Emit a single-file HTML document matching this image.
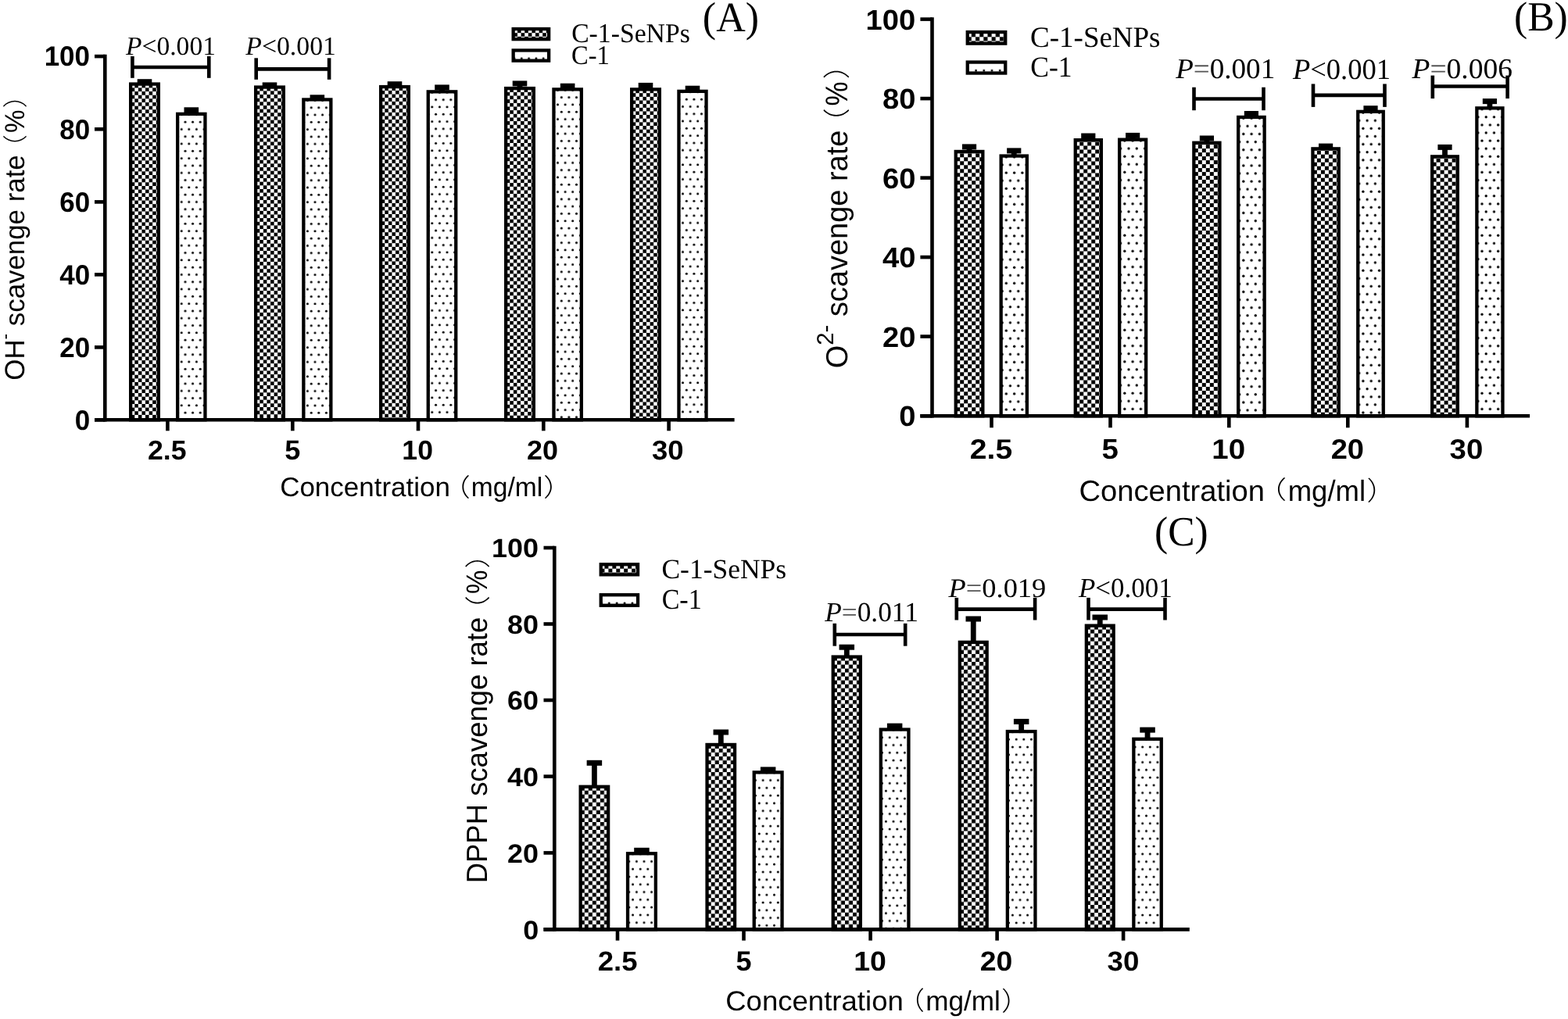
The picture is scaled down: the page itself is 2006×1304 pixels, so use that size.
<!DOCTYPE html>
<html><head><meta charset="utf-8"><title>Scavenging rate figure</title>
<style>
html,body{margin:0;padding:0;background:#fff;}
svg{display:block;}
text{text-rendering:geometricPrecision;}
.tk{font-family:"Liberation Sans", "Noto Sans CJK SC", sans-serif;font-weight:bold;fill:#000;}
.tt{font-family:"Liberation Sans", "Noto Sans CJK SC", sans-serif;fill:#000;}
.cj{font-family:"Noto Sans CJK SC", "Liberation Sans", sans-serif;fill:#000;}
.cjl{font-family:"Noto Sans CJK SC", "Liberation Sans", sans-serif;font-weight:300;fill:#000;}
.pv{font-family:"Liberation Serif", "Noto Serif CJK SC", serif;fill:#000;}
.lg{font-family:"Liberation Serif", "Noto Serif CJK SC", serif;fill:#000;}
</style></head>
<body>
<svg width="2006" height="1304" viewBox="0 0 2006 1304">
<defs>
<pattern id="chkA" patternUnits="userSpaceOnUse" x="7.3" y="2.35" width="9.14" height="9.3">
 <rect width="9.14" height="9.3" fill="#fff"/>
 <rect width="4.57" height="4.65" fill="#000"/>
 <rect x="4.57" y="4.65" width="4.57" height="4.65" fill="#000"/>
</pattern>
<pattern id="dotA" patternUnits="userSpaceOnUse" x="4.8" y="-1.55" width="9.6" height="18.6">
 <rect width="9.6" height="18.6" fill="#fff"/>
 <circle cx="2.4" cy="4.65" r="1.5" fill="#000"/>
 <circle cx="7.2" cy="13.95" r="1.5" fill="#000"/>
</pattern>
<pattern id="lchkA" patternUnits="userSpaceOnUse" x="666.6" y="42.2" width="9.2" height="9.2">
 <rect width="9.2" height="9.2" fill="#fff"/>
 <rect width="4.6" height="4.6" fill="#000"/>
 <rect x="4.6" y="4.6" width="4.6" height="4.6" fill="#000"/>
</pattern>
<pattern id="ldotA" patternUnits="userSpaceOnUse" x="662.65" y="24.9" width="9.3" height="100">
 <rect width="9.3" height="100" fill="#fff"/>
 <circle cx="4.65" cy="50" r="1.45" fill="#000"/>
</pattern>
<pattern id="chkB" patternUnits="userSpaceOnUse" x="7.6" y="4.5" width="10" height="10">
 <rect width="10" height="10" fill="#fff"/>
 <rect width="5" height="5" fill="#000"/>
 <rect x="5" y="5" width="5" height="5" fill="#000"/>
</pattern>
<pattern id="dotB" patternUnits="userSpaceOnUse" x="6.23" y="-1.55" width="10.3" height="20.2">
 <rect width="10.3" height="20.2" fill="#fff"/>
 <circle cx="2.58" cy="5.05" r="1.65" fill="#000"/>
 <circle cx="7.73" cy="15.15" r="1.65" fill="#000"/>
</pattern>
<pattern id="lchkB" patternUnits="userSpaceOnUse" x="1248" y="47.3" width="10.3" height="10.3">
 <rect width="10.3" height="10.3" fill="#fff"/>
 <rect width="5.15" height="5.15" fill="#000"/>
 <rect x="5.15" y="5.15" width="5.15" height="5.15" fill="#000"/>
</pattern>
<pattern id="ldotB" patternUnits="userSpaceOnUse" x="1243.5" y="40.4" width="10.2" height="100">
 <rect width="10.2" height="100" fill="#fff"/>
 <circle cx="5.1" cy="50" r="1.45" fill="#000"/>
</pattern>
<pattern id="chkC" patternUnits="userSpaceOnUse" x="7.3" y="7.1" width="10.04" height="10.07">
 <rect width="10.04" height="10.07" fill="#fff"/>
 <rect width="5.02" height="5.04" fill="#000"/>
 <rect x="5.02" y="5.04" width="5.02" height="5.04" fill="#000"/>
</pattern>
<pattern id="dotC" patternUnits="userSpaceOnUse" x="6.3" y="-2.39" width="9.6" height="19.56">
 <rect width="9.6" height="19.56" fill="#fff"/>
 <circle cx="2.4" cy="4.89" r="1.5" fill="#000"/>
 <circle cx="7.2" cy="14.67" r="1.5" fill="#000"/>
</pattern>
<pattern id="lchkC" patternUnits="userSpaceOnUse" x="778.4" y="727.7" width="9.9" height="9.9">
 <rect width="9.9" height="9.9" fill="#fff"/>
 <rect width="4.95" height="4.95" fill="#000"/>
 <rect x="4.95" y="4.95" width="4.95" height="4.95" fill="#000"/>
</pattern>
<pattern id="ldotC" patternUnits="userSpaceOnUse" x="774.35" y="722" width="9.9" height="100">
 <rect width="9.9" height="100" fill="#fff"/>
 <circle cx="4.95" cy="50" r="1.45" fill="#000"/>
</pattern>
</defs>
<rect width="2006" height="1304" fill="#fff"/>
<rect x="175.7" y="101.2" width="18.6" height="7" fill="#000"/>
<g transform="translate(165 105.4)"><rect x="2.15" y="2.15" width="35.7" height="429.75" fill="url(#chkA)" stroke="#000" stroke-width="4.3"/></g>
<rect x="241.4" y="140.3" width="6.8" height="6.4" fill="#000"/>
<rect x="235.5" y="137.3" width="18.6" height="7" fill="#000"/>
<g transform="translate(225 143.7)"><rect x="2.15" y="2.15" width="35.3" height="391.45" fill="url(#dotA)" stroke="#000" stroke-width="4.3"/></g>
<rect x="335.7" y="105.4" width="18.6" height="7" fill="#000"/>
<g transform="translate(325 109.4)"><rect x="2.15" y="2.15" width="35.7" height="425.75" fill="url(#chkA)" stroke="#000" stroke-width="4.3"/></g>
<rect x="396.55" y="121.3" width="18.6" height="7" fill="#000"/>
<g transform="translate(386.2 125.3)"><rect x="2.15" y="2.15" width="35" height="409.85" fill="url(#dotA)" stroke="#000" stroke-width="4.3"/></g>
<rect x="495.7" y="104.2" width="18.6" height="7" fill="#000"/>
<g transform="translate(485 108.9)"><rect x="2.15" y="2.15" width="35.7" height="426.25" fill="url(#chkA)" stroke="#000" stroke-width="4.3"/></g>
<rect x="562.1" y="111.4" width="6.8" height="6.8" fill="#000"/>
<rect x="556.2" y="108.4" width="18.6" height="7" fill="#000"/>
<g transform="translate(545.6 115.2)"><rect x="2.15" y="2.15" width="35.5" height="419.95" fill="url(#dotA)" stroke="#000" stroke-width="4.3"/></g>
<rect x="661.6" y="106.4" width="6.8" height="7.5" fill="#000"/>
<rect x="655.7" y="103.4" width="18.6" height="7" fill="#000"/>
<g transform="translate(645 110.9)"><rect x="2.15" y="2.15" width="35.7" height="424.25" fill="url(#chkA)" stroke="#000" stroke-width="4.3"/></g>
<rect x="716.85" y="106.7" width="18.6" height="7" fill="#000"/>
<g transform="translate(706.3 112.2)"><rect x="2.15" y="2.15" width="35.4" height="422.95" fill="url(#dotA)" stroke="#000" stroke-width="4.3"/></g>
<rect x="822.6" y="108.9" width="6.8" height="6.3" fill="#000"/>
<rect x="816.7" y="105.9" width="18.6" height="7" fill="#000"/>
<g transform="translate(806 112.2)"><rect x="2.15" y="2.15" width="35.7" height="422.95" fill="url(#chkA)" stroke="#000" stroke-width="4.3"/></g>
<rect x="876.7" y="109.7" width="18.6" height="7" fill="#000"/>
<g transform="translate(866.3 114.7)"><rect x="2.15" y="2.15" width="35.1" height="420.45" fill="url(#dotA)" stroke="#000" stroke-width="4.3"/></g>
<line x1="134.3" y1="69.8" x2="134.3" y2="539.6" stroke="#000" stroke-width="4.6"/>
<line x1="121" y1="537.3" x2="939.6" y2="537.3" stroke="#000" stroke-width="4.6"/>
<line x1="121" y1="537.3" x2="134.3" y2="537.3" stroke="#000" stroke-width="4.6"/>
<line x1="121" y1="444.4" x2="134.3" y2="444.4" stroke="#000" stroke-width="4.6"/>
<line x1="121" y1="351.4" x2="134.3" y2="351.4" stroke="#000" stroke-width="4.6"/>
<line x1="121" y1="258.4" x2="134.3" y2="258.4" stroke="#000" stroke-width="4.6"/>
<line x1="121" y1="165.3" x2="134.3" y2="165.3" stroke="#000" stroke-width="4.6"/>
<line x1="121" y1="72.1" x2="134.3" y2="72.1" stroke="#000" stroke-width="4.6"/>
<line x1="214.4" y1="537.3" x2="214.4" y2="551.3" stroke="#000" stroke-width="4.6"/>
<line x1="374.3" y1="537.3" x2="374.3" y2="551.3" stroke="#000" stroke-width="4.6"/>
<line x1="535" y1="537.3" x2="535" y2="551.3" stroke="#000" stroke-width="4.6"/>
<line x1="695.3" y1="537.3" x2="695.3" y2="551.3" stroke="#000" stroke-width="4.6"/>
<line x1="855.6" y1="537.3" x2="855.6" y2="551.3" stroke="#000" stroke-width="4.6"/>
<text class="tk" font-size="100" transform="matrix(0.3494 0 0 0.3563 95.78 549.69)">0</text>
<text class="tk" font-size="100" transform="matrix(0.3494 0 0 0.3563 76.22 456.79)">20</text>
<text class="tk" font-size="100" transform="matrix(0.3494 0 0 0.3563 76.22 363.79)">40</text>
<text class="tk" font-size="100" transform="matrix(0.3494 0 0 0.3563 76.22 270.79)">60</text>
<text class="tk" font-size="100" transform="matrix(0.3494 0 0 0.3563 76.22 177.69)">80</text>
<text class="tk" font-size="100" transform="matrix(0.3494 0 0 0.3563 56.65 84.49)">100</text>
<text class="tk" font-size="100" transform="matrix(0.3564 0 0 0.3479 188.93 587.75)">2.5</text>
<text class="tk" font-size="100" transform="matrix(0.36 0 0 0.3529 364.22 587.75)">5</text>
<text class="tk" font-size="100" transform="matrix(0.3554 0 0 0.3479 514.37 587.75)">10</text>
<text class="tk" font-size="100" transform="matrix(0.3596 0 0 0.3479 673.92 587.75)">20</text>
<text class="tk" font-size="100" transform="matrix(0.3654 0 0 0.3479 833.9 587.75)">30</text>
<line x1="169.4" y1="72" x2="169.4" y2="99.8" stroke="#000" stroke-width="4.6"/>
<line x1="169.4" y1="86" x2="267.3" y2="86" stroke="#000" stroke-width="4.7"/>
<line x1="267.3" y1="72" x2="267.3" y2="99.8" stroke="#000" stroke-width="4.6"/>
<text class="pv" font-size="100" transform="matrix(0.3357 0 0 0.3343 161 69.57)"><tspan font-style="italic">P</tspan><tspan fill="#000">&lt;</tspan>0.001</text>
<line x1="327.7" y1="74.3" x2="327.7" y2="101.8" stroke="#000" stroke-width="4.6"/>
<line x1="327.7" y1="88.3" x2="421.1" y2="88.3" stroke="#000" stroke-width="4.7"/>
<line x1="421.1" y1="74.3" x2="421.1" y2="101.8" stroke="#000" stroke-width="4.6"/>
<text class="pv" font-size="100" transform="matrix(0.3375 0 0 0.3343 314.3 69.57)"><tspan font-style="italic">P</tspan><tspan fill="#000">&lt;</tspan>0.001</text>
<rect x="656.65" y="37.05" width="45.5" height="13.1" fill="url(#lchkA)" stroke="#000" stroke-width="4.3"/>
<rect x="656.65" y="64.45" width="45.5" height="13.2" fill="url(#ldotA)" stroke="#000" stroke-width="4.3"/>
<text class="lg" font-size="100" transform="matrix(0.3369 0 0 0.3478 731.15 54.15)">C-1-SeNPs</text>
<text class="lg" font-size="100" transform="matrix(0.325 0 0 0.3433 731.1 81.66)">C-1</text>
<text class="lg" font-size="100" transform="matrix(0.52 0 0 0.5378 898.82 39.51)">(A)</text>
<text class="tt" font-size="100" transform="translate(31.3 486.64) rotate(-90) scale(0.3484 0.3536)">OH<tspan font-size="65" dy="-49">-</tspan><tspan dy="49"> scavenge rate</tspan></text>
<text class="cjl" font-size="100" transform="translate(31.36 204.77) rotate(-90) scale(0.325 0.316)">（</text>
<text class="tt" font-size="100" transform="translate(31.4 170.03) rotate(-90) scale(0.3321 0.3551)">%</text>
<text class="cjl" font-size="100" transform="translate(31.36 138.27) rotate(-90) scale(0.3333 0.316)">）</text>
<text class="tt" font-size="100" transform="matrix(0.3498 0 0 0.3452 358.15 635.15)">Concentration</text>
<text class="cjl" font-size="100" transform="matrix(0.3625 0 0 0.316 565.56 635.06)">（</text>
<text class="tt" font-size="100" transform="matrix(0.3355 0 0 0.3452 602.85 635.15)">mg/ml</text>
<text class="cjl" font-size="100" transform="matrix(0.3792 0 0 0.316 695.1 635.06)">）</text>
<rect x="1236.65" y="187.4" width="6.8" height="7.4" fill="#000"/>
<rect x="1230.95" y="184.4" width="18.2" height="7" fill="#000"/>
<g transform="translate(1220.6 191.8)"><rect x="2.15" y="2.15" width="34.6" height="338.35" fill="url(#chkB)" stroke="#000" stroke-width="4.3"/></g>
<rect x="1293.85" y="192.4" width="6.8" height="8" fill="#000"/>
<rect x="1288.15" y="189.4" width="18.2" height="7" fill="#000"/>
<g transform="translate(1278.5 197.4)"><rect x="2.15" y="2.15" width="33.2" height="332.75" fill="url(#dotB)" stroke="#000" stroke-width="4.3"/></g>
<rect x="1388.9" y="173.5" width="6.8" height="6.5" fill="#000"/>
<rect x="1383.2" y="170.5" width="18.2" height="7" fill="#000"/>
<g transform="translate(1373.6 177)"><rect x="2.15" y="2.15" width="33.1" height="353.15" fill="url(#chkB)" stroke="#000" stroke-width="4.3"/></g>
<rect x="1445.75" y="172.9" width="6.8" height="6.6" fill="#000"/>
<rect x="1440.05" y="169.9" width="18.2" height="7" fill="#000"/>
<g transform="translate(1430 176.5)"><rect x="2.15" y="2.15" width="34" height="353.65" fill="url(#dotB)" stroke="#000" stroke-width="4.3"/></g>
<rect x="1540.5" y="176.5" width="6.8" height="7.1" fill="#000"/>
<rect x="1534.8" y="173.5" width="18.2" height="7" fill="#000"/>
<g transform="translate(1525.2 180.6)"><rect x="2.15" y="2.15" width="33.1" height="349.55" fill="url(#chkB)" stroke="#000" stroke-width="4.3"/></g>
<rect x="1591.8" y="142" width="18.2" height="7" fill="#000"/>
<g transform="translate(1582 147.8)"><rect x="2.15" y="2.15" width="33.5" height="382.35" fill="url(#dotB)" stroke="#000" stroke-width="4.3"/></g>
<rect x="1687" y="183.6" width="18.2" height="7" fill="#000"/>
<g transform="translate(1677.3 188.2)"><rect x="2.15" y="2.15" width="33.3" height="341.95" fill="url(#chkB)" stroke="#000" stroke-width="4.3"/></g>
<rect x="1744.4" y="135.2" width="18.2" height="7" fill="#000"/>
<g transform="translate(1735.1 140.7)"><rect x="2.15" y="2.15" width="32.5" height="389.45" fill="url(#dotB)" stroke="#000" stroke-width="4.3"/></g>
<rect x="1845.1" y="187.9" width="6.8" height="13.3" fill="#000"/>
<rect x="1839.4" y="184.9" width="18.2" height="7" fill="#000"/>
<g transform="translate(1830 198.2)"><rect x="2.15" y="2.15" width="32.7" height="331.95" fill="url(#chkB)" stroke="#000" stroke-width="4.3"/></g>
<rect x="1902.5" y="129.1" width="6.8" height="10.1" fill="#000"/>
<rect x="1896.8" y="126.1" width="18.2" height="7" fill="#000"/>
<g transform="translate(1887.2 136.2)"><rect x="2.15" y="2.15" width="33.1" height="393.95" fill="url(#dotB)" stroke="#000" stroke-width="4.3"/></g>
<line x1="1192.5" y1="22.3" x2="1192.5" y2="534.6" stroke="#000" stroke-width="4.6"/>
<line x1="1177.3" y1="532.3" x2="1957.1" y2="532.3" stroke="#000" stroke-width="4.6"/>
<line x1="1177.4" y1="532.3" x2="1192.5" y2="532.3" stroke="#000" stroke-width="4.6"/>
<line x1="1177.4" y1="430.6" x2="1192.5" y2="430.6" stroke="#000" stroke-width="4.6"/>
<line x1="1177.4" y1="329.1" x2="1192.5" y2="329.1" stroke="#000" stroke-width="4.6"/>
<line x1="1177.4" y1="227.6" x2="1192.5" y2="227.6" stroke="#000" stroke-width="4.6"/>
<line x1="1177.4" y1="126.1" x2="1192.5" y2="126.1" stroke="#000" stroke-width="4.6"/>
<line x1="1177.4" y1="24.6" x2="1192.5" y2="24.6" stroke="#000" stroke-width="4.6"/>
<line x1="1268.5" y1="532.3" x2="1268.5" y2="547.3" stroke="#000" stroke-width="4.6"/>
<line x1="1420.5" y1="532.3" x2="1420.5" y2="547.3" stroke="#000" stroke-width="4.6"/>
<line x1="1572.3" y1="532.3" x2="1572.3" y2="547.3" stroke="#000" stroke-width="4.6"/>
<line x1="1724.3" y1="532.3" x2="1724.3" y2="547.3" stroke="#000" stroke-width="4.6"/>
<line x1="1876.9" y1="532.3" x2="1876.9" y2="547.3" stroke="#000" stroke-width="4.6"/>
<text class="tk" font-size="100" transform="matrix(0.3823 0 0 0.3648 1150.3 545.34)">0</text>
<text class="tk" font-size="100" transform="matrix(0.3823 0 0 0.3648 1128.9 443.64)">20</text>
<text class="tk" font-size="100" transform="matrix(0.3823 0 0 0.3648 1128.9 342.14)">40</text>
<text class="tk" font-size="100" transform="matrix(0.3823 0 0 0.3648 1128.9 240.64)">60</text>
<text class="tk" font-size="100" transform="matrix(0.3823 0 0 0.3648 1128.9 139.14)">80</text>
<text class="tk" font-size="100" transform="matrix(0.3823 0 0 0.3648 1107.49 37.64)">100</text>
<text class="tk" font-size="100" transform="matrix(0.391 0 0 0.3577 1240.83 587.34)">2.5</text>
<text class="tk" font-size="100" transform="matrix(0.3851 0 0 0.3629 1409.42 587.34)">5</text>
<text class="tk" font-size="100" transform="matrix(0.3851 0 0 0.3577 1550.24 587.34)">10</text>
<text class="tk" font-size="100" transform="matrix(0.3808 0 0 0.3577 1702.66 587.34)">20</text>
<text class="tk" font-size="100" transform="matrix(0.3837 0 0 0.3577 1854.55 587.34)">30</text>
<line x1="1527.5" y1="111.7" x2="1527.5" y2="141.2" stroke="#000" stroke-width="4.6"/>
<line x1="1527.5" y1="126.5" x2="1616.5" y2="126.5" stroke="#000" stroke-width="4.7"/>
<line x1="1616.5" y1="111.7" x2="1616.5" y2="141.2" stroke="#000" stroke-width="4.6"/>
<text class="pv" font-size="100" transform="matrix(0.3708 0 0 0.3642 1504.2 100.34)"><tspan font-style="italic">P</tspan><tspan fill="#555">=</tspan>0.001</text>
<line x1="1680" y1="107.4" x2="1680" y2="136.9" stroke="#000" stroke-width="4.6"/>
<line x1="1680" y1="121.8" x2="1771.5" y2="121.8" stroke="#000" stroke-width="4.7"/>
<line x1="1771.5" y1="107.4" x2="1771.5" y2="136.9" stroke="#000" stroke-width="4.6"/>
<text class="pv" font-size="100" transform="matrix(0.3652 0 0 0.3731 1653.9 100.53)"><tspan font-style="italic">P</tspan><tspan fill="#000">&lt;</tspan>0.001</text>
<line x1="1832.8" y1="96.6" x2="1832.8" y2="126.1" stroke="#000" stroke-width="4.6"/>
<line x1="1832.8" y1="110.5" x2="1928.6" y2="110.5" stroke="#000" stroke-width="4.7"/>
<line x1="1928.6" y1="96.6" x2="1928.6" y2="126.1" stroke="#000" stroke-width="4.6"/>
<text class="pv" font-size="100" transform="matrix(0.3752 0 0 0.3657 1806.5 100.23)"><tspan font-style="italic">P</tspan><tspan fill="#555">=</tspan>0.006</text>
<rect x="1237.75" y="41.05" width="48.5" height="14.6" fill="url(#lchkB)" stroke="#000" stroke-width="4.3"/>
<rect x="1237.75" y="79.55" width="48.5" height="14" fill="url(#ldotB)" stroke="#000" stroke-width="4.3"/>
<text class="lg" font-size="100" transform="matrix(0.3697 0 0 0.3746 1318.12 60.33)">C-1-SeNPs</text>
<text class="lg" font-size="100" transform="matrix(0.355 0 0 0.3716 1318.28 97.83)">C-1</text>
<text class="lg" font-size="100" transform="matrix(0.5168 0 0 0.5311 1936.93 39.35)">(B)</text>
<text class="tt" font-size="100" transform="translate(1083.71 471.2) rotate(-90) scale(0.3797 0.3887)">O<tspan font-size="77" dy="-46">2-</tspan><tspan dy="46"> scavenge rate</tspan></text>
<text class="cjl" font-size="100" transform="translate(1083.28 175.03) rotate(-90) scale(0.3667 0.3468)">（</text>
<text class="tt" font-size="100" transform="translate(1083.7 135.4) rotate(-90) scale(0.3494 0.4)">%</text>
<text class="cjl" font-size="100" transform="translate(1083.28 101.33) rotate(-90) scale(0.3667 0.3468)">）</text>
<text class="tt" font-size="100" transform="matrix(0.3812 0 0 0.3753 1380.59 640.52)">Concentration</text>
<text class="cjl" font-size="100" transform="matrix(0.3917 0 0 0.316 1607.09 638.46)">（</text>
<text class="tt" font-size="100" transform="matrix(0.3653 0 0 0.3753 1647.64 640.52)">mg/ml</text>
<text class="cjl" font-size="100" transform="matrix(0.375 0 0 0.334 1748.53 639.99)">）</text>
<rect x="757" y="975.8" width="6.8" height="31.8" fill="#000"/>
<rect x="750.65" y="972.8" width="19.5" height="7" fill="#000"/>
<g transform="translate(740.5 1004.6)"><rect x="2.15" y="2.15" width="35.5" height="182.65" fill="url(#chkC)" stroke="#000" stroke-width="4.3"/></g>
<rect x="811.2" y="1084.8" width="19.5" height="7" fill="#000"/>
<g transform="translate(800.9 1090.1)"><rect x="2.15" y="2.15" width="35.8" height="97.15" fill="url(#dotC)" stroke="#000" stroke-width="4.3"/></g>
<rect x="918.9" y="936.5" width="6.8" height="17.3" fill="#000"/>
<rect x="912.55" y="933.5" width="19.5" height="7" fill="#000"/>
<g transform="translate(902.4 950.8)"><rect x="2.15" y="2.15" width="35.5" height="236.45" fill="url(#chkC)" stroke="#000" stroke-width="4.3"/></g>
<rect x="972.9" y="981.4" width="19.5" height="7" fill="#000"/>
<g transform="translate(962.6 986.2)"><rect x="2.15" y="2.15" width="35.8" height="201.05" fill="url(#dotC)" stroke="#000" stroke-width="4.3"/></g>
<rect x="1079.9" y="827.7" width="6.8" height="13.7" fill="#000"/>
<rect x="1073.55" y="824.7" width="19.5" height="7" fill="#000"/>
<g transform="translate(1063.6 838.4)"><rect x="2.15" y="2.15" width="35.1" height="348.85" fill="url(#chkC)" stroke="#000" stroke-width="4.3"/></g>
<rect x="1134.9" y="925.6" width="19.5" height="7" fill="#000"/>
<g transform="translate(1124.7 931.4)"><rect x="2.15" y="2.15" width="35.6" height="255.85" fill="url(#dotC)" stroke="#000" stroke-width="4.3"/></g>
<rect x="1241.85" y="791.5" width="6.8" height="31.2" fill="#000"/>
<rect x="1235.5" y="788.5" width="19.5" height="7" fill="#000"/>
<g transform="translate(1225.7 819.7)"><rect x="2.15" y="2.15" width="34.8" height="367.55" fill="url(#chkC)" stroke="#000" stroke-width="4.3"/></g>
<rect x="1303.25" y="922.9" width="6.8" height="14" fill="#000"/>
<rect x="1296.9" y="919.9" width="19.5" height="7" fill="#000"/>
<g transform="translate(1286.7 933.9)"><rect x="2.15" y="2.15" width="35.6" height="253.35" fill="url(#dotC)" stroke="#000" stroke-width="4.3"/></g>
<rect x="1403.85" y="789.5" width="6.8" height="12" fill="#000"/>
<rect x="1397.5" y="786.5" width="19.5" height="7" fill="#000"/>
<g transform="translate(1387.7 798.5)"><rect x="2.15" y="2.15" width="34.8" height="388.75" fill="url(#chkC)" stroke="#000" stroke-width="4.3"/></g>
<rect x="1464.65" y="933.6" width="6.8" height="13" fill="#000"/>
<rect x="1458.3" y="930.6" width="19.5" height="7" fill="#000"/>
<g transform="translate(1448.2 943.6)"><rect x="2.15" y="2.15" width="35.4" height="243.65" fill="url(#dotC)" stroke="#000" stroke-width="4.3"/></g>
<line x1="709.3" y1="698.7" x2="709.3" y2="1191.7" stroke="#000" stroke-width="4.6"/>
<line x1="695.5" y1="1189.4" x2="1521.8" y2="1189.4" stroke="#000" stroke-width="4.6"/>
<line x1="695.5" y1="1189.4" x2="709.3" y2="1189.4" stroke="#000" stroke-width="4.6"/>
<line x1="695.5" y1="1091.4" x2="709.3" y2="1091.4" stroke="#000" stroke-width="4.6"/>
<line x1="695.5" y1="993.6" x2="709.3" y2="993.6" stroke="#000" stroke-width="4.6"/>
<line x1="695.5" y1="896" x2="709.3" y2="896" stroke="#000" stroke-width="4.6"/>
<line x1="695.5" y1="798.5" x2="709.3" y2="798.5" stroke="#000" stroke-width="4.6"/>
<line x1="695.5" y1="701" x2="709.3" y2="701" stroke="#000" stroke-width="4.6"/>
<line x1="790" y1="1189.4" x2="790" y2="1203.6" stroke="#000" stroke-width="4.6"/>
<line x1="951.5" y1="1189.4" x2="951.5" y2="1203.6" stroke="#000" stroke-width="4.6"/>
<line x1="1113.6" y1="1189.4" x2="1113.6" y2="1203.6" stroke="#000" stroke-width="4.6"/>
<line x1="1275.6" y1="1189.4" x2="1275.6" y2="1203.6" stroke="#000" stroke-width="4.6"/>
<line x1="1437.1" y1="1189.4" x2="1437.1" y2="1203.6" stroke="#000" stroke-width="4.6"/>
<text class="tk" font-size="100" transform="matrix(0.3592 0 0 0.3387 669.18 1201.89)">0</text>
<text class="tk" font-size="100" transform="matrix(0.3592 0 0 0.3387 649.06 1103.89)">20</text>
<text class="tk" font-size="100" transform="matrix(0.3592 0 0 0.3387 649.06 1006.09)">40</text>
<text class="tk" font-size="100" transform="matrix(0.3592 0 0 0.3387 649.06 908.49)">60</text>
<text class="tk" font-size="100" transform="matrix(0.3592 0 0 0.3387 649.06 810.99)">80</text>
<text class="tk" font-size="100" transform="matrix(0.3592 0 0 0.3387 628.94 713.49)">100</text>
<text class="tk" font-size="100" transform="matrix(0.3654 0 0 0.3507 764.7 1241.85)">2.5</text>
<text class="tk" font-size="100" transform="matrix(0.36 0 0 0.3557 941.62 1241.84)">5</text>
<text class="tk" font-size="100" transform="matrix(0.3752 0 0 0.3507 1092.15 1241.85)">10</text>
<text class="tk" font-size="100" transform="matrix(0.374 0 0 0.3507 1253.78 1241.85)">20</text>
<text class="tk" font-size="100" transform="matrix(0.3673 0 0 0.3507 1416.5 1241.85)">30</text>
<line x1="1067.8" y1="797.8" x2="1067.8" y2="826.7" stroke="#000" stroke-width="4.6"/>
<line x1="1067.8" y1="812" x2="1158.2" y2="812" stroke="#000" stroke-width="4.7"/>
<line x1="1158.2" y1="797.8" x2="1158.2" y2="826.7" stroke="#000" stroke-width="4.6"/>
<text class="pv" font-size="100" transform="matrix(0.3532 0 0 0.3522 1055.2 795.45)"><tspan font-style="italic">P</tspan><tspan fill="#555">=</tspan>0.011</text>
<line x1="1223.8" y1="764.9" x2="1223.8" y2="793.5" stroke="#000" stroke-width="4.6"/>
<line x1="1223.8" y1="779.6" x2="1324.1" y2="779.6" stroke="#000" stroke-width="4.7"/>
<line x1="1324.1" y1="764.9" x2="1324.1" y2="793.5" stroke="#000" stroke-width="4.6"/>
<text class="pv" font-size="100" transform="matrix(0.3639 0 0 0.3433 1213.6 763.96)"><tspan font-style="italic">P</tspan><tspan fill="#555">=</tspan>0.019</text>
<line x1="1392.5" y1="764.9" x2="1392.5" y2="793.5" stroke="#000" stroke-width="4.6"/>
<line x1="1392.5" y1="779.6" x2="1490.5" y2="779.6" stroke="#000" stroke-width="4.7"/>
<line x1="1490.5" y1="764.9" x2="1490.5" y2="793.5" stroke="#000" stroke-width="4.6"/>
<text class="pv" font-size="100" transform="matrix(0.35 0 0 0.3522 1379.9 764.45)"><tspan font-style="italic">P</tspan><tspan fill="#000">&lt;</tspan>0.001</text>
<rect x="768.75" y="722.25" width="47.3" height="13.1" fill="url(#lchkC)" stroke="#000" stroke-width="4.3"/>
<rect x="768.75" y="761.25" width="47.3" height="13.5" fill="url(#ldotC)" stroke="#000" stroke-width="4.3"/>
<text class="lg" font-size="100" transform="matrix(0.3545 0 0 0.3552 846.48 739.94)">C-1-SeNPs</text>
<text class="lg" font-size="100" transform="matrix(0.3407 0 0 0.3657 846.64 779.33)">C-1</text>
<text class="lg" font-size="100" transform="matrix(0.5144 0 0 0.5344 1477.04 697.68)">(C)</text>
<text class="tt" font-size="100" transform="translate(623.3 1130.32) rotate(-90) scale(0.3647 0.3739)">DPPH scavenge rate</text>
<text class="cjl" font-size="100" transform="translate(622.77 798.73) rotate(-90) scale(0.3667 0.3255)">（</text>
<text class="tt" font-size="100" transform="translate(623.3 759.97) rotate(-90) scale(0.3432 0.3797)">%</text>
<text class="cjl" font-size="100" transform="translate(622.77 727.45) rotate(-90) scale(0.3708 0.3255)">）</text>
<text class="tt" font-size="100" transform="matrix(0.3656 0 0 0.3548 928.17 1292.55)">Concentration</text>
<text class="cjl" font-size="100" transform="matrix(0.3458 0 0 0.3266 1148.15 1292.36)">（</text>
<text class="tt" font-size="100" transform="matrix(0.3517 0 0 0.3548 1184.14 1292.55)">mg/ml</text>
<text class="cjl" font-size="100" transform="matrix(0.3667 0 0 0.3319 1281.07 1292.81)">）</text>
</svg>
</body></html>
